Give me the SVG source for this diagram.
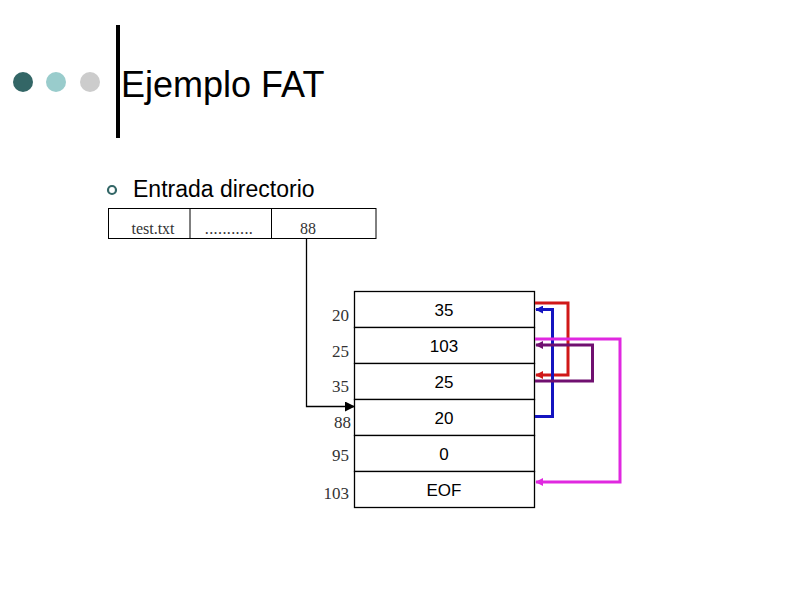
<svg xmlns="http://www.w3.org/2000/svg" width="794" height="595" viewBox="0 0 794 595">
<style>
.sans{font-family:"Liberation Sans",Arial,sans-serif}
.serif{font-family:"Liberation Serif","Times New Roman",serif}
.cell{fill:#fff;stroke:#000;stroke-width:1.3}
.val{font-family:"Liberation Sans",Arial,sans-serif;font-size:17px;text-anchor:middle}
.idx{font-family:"Liberation Serif","Times New Roman",serif;font-size:17px;text-anchor:end;fill:#333}
.lnk{fill:none;stroke-width:3}
</style>
<defs>
<marker id="ab" viewBox="0 0 10 10" refX="9" refY="5" markerWidth="10" markerHeight="10" markerUnits="userSpaceOnUse" orient="auto"><path d="M0,0 L10,5 L0,10 z" fill="#000"/></marker>
<marker id="ar" viewBox="0 0 10 10" refX="9" refY="5" markerWidth="8" markerHeight="8" markerUnits="userSpaceOnUse" orient="auto"><path d="M0,0 L10,5 L0,10 z" fill="#d01818"/></marker>
<marker id="abl" viewBox="0 0 10 10" refX="9" refY="5" markerWidth="8" markerHeight="8" markerUnits="userSpaceOnUse" orient="auto"><path d="M0,0 L10,5 L0,10 z" fill="#1414c0"/></marker>
<marker id="am" viewBox="0 0 10 10" refX="9" refY="5" markerWidth="8" markerHeight="8" markerUnits="userSpaceOnUse" orient="auto"><path d="M0,0 L10,5 L0,10 z" fill="#e028e0"/></marker>
<marker id="ap" viewBox="0 0 10 10" refX="9" refY="5" markerWidth="8" markerHeight="8" markerUnits="userSpaceOnUse" orient="auto"><path d="M0,0 L10,5 L0,10 z" fill="#701070"/></marker>
</defs>
<rect width="794" height="595" fill="#fff"/>
<g id="title">
<circle cx="23" cy="82" r="10" fill="#336666"/>
<circle cx="56" cy="82" r="10" fill="#99cccc"/>
<circle cx="90" cy="82" r="10" fill="#cccccc"/>
<rect x="116" y="25" width="4" height="113" fill="#000"/>
<text x="121" y="97" class="sans" font-size="36">Ejemplo FAT</text>
</g>
<g id="bullet">
<circle cx="112" cy="190" r="4" fill="none" stroke="#336666" stroke-width="2.2"/>
<text x="133" y="197" class="sans" font-size="23">Entrada directorio</text>
</g>
<g id="directory">
<rect x="108.5" y="208.5" width="267.5" height="30" fill="#fff" stroke="#000" stroke-width="1"/>
<line x1="190" y1="208.5" x2="190" y2="238.5" stroke="#000"/>
<line x1="271.5" y1="208.5" x2="271.5" y2="238.5" stroke="#000"/>
<text x="153" y="234" class="serif" font-size="16" text-anchor="middle" fill="#333">test.txt</text>
<text x="229" y="234" class="serif" font-size="16" text-anchor="middle" fill="#333" letter-spacing="0.4">...........</text>
<text x="308" y="234" class="serif" font-size="16" text-anchor="middle" fill="#333">88</text>
</g>
<g id="fat">
<rect class="cell" x="354.5" y="291.5" width="180" height="36"/>
<rect class="cell" x="354.5" y="327.5" width="180" height="36"/>
<rect class="cell" x="354.5" y="363.5" width="180" height="36"/>
<rect class="cell" x="354.5" y="399.5" width="180" height="36"/>
<rect class="cell" x="354.5" y="435.5" width="180" height="36"/>
<rect class="cell" x="354.5" y="471.5" width="180" height="36"/>
<text class="val" x="444" y="316">35</text>
<text class="val" x="444" y="352">103</text>
<text class="val" x="444" y="388">25</text>
<text class="val" x="444" y="424">20</text>
<text class="val" x="444" y="460">0</text>
<text class="val" x="444" y="496">EOF</text>
<text class="idx" x="349" y="321">20</text>
<text class="idx" x="349" y="357">25</text>
<text class="idx" x="349" y="392">35</text>
<text class="idx" x="351" y="428">88</text>
<text class="idx" x="349" y="461">95</text>
<text class="idx" x="349" y="499">103</text>
</g>
<g id="connectors">
<path d="M306.5,238.5 V406.5 H354" fill="none" stroke="#000" stroke-width="1.3" marker-end="url(#ab)"/>
<path class="lnk" d="M535,303 H568 V375 H536" stroke="#d01818" marker-end="url(#ar)"/>
<path class="lnk" d="M535,416.5 H552.5 V309.5 H536" stroke="#1414c0" marker-end="url(#abl)"/>
<path class="lnk" d="M535,339 H620 V482 H536" stroke="#e028e0" marker-end="url(#am)"/>
<path class="lnk" d="M535,381 H592.5 V345 H536" stroke="#701070" marker-end="url(#ap)"/>
</g>
</svg>
